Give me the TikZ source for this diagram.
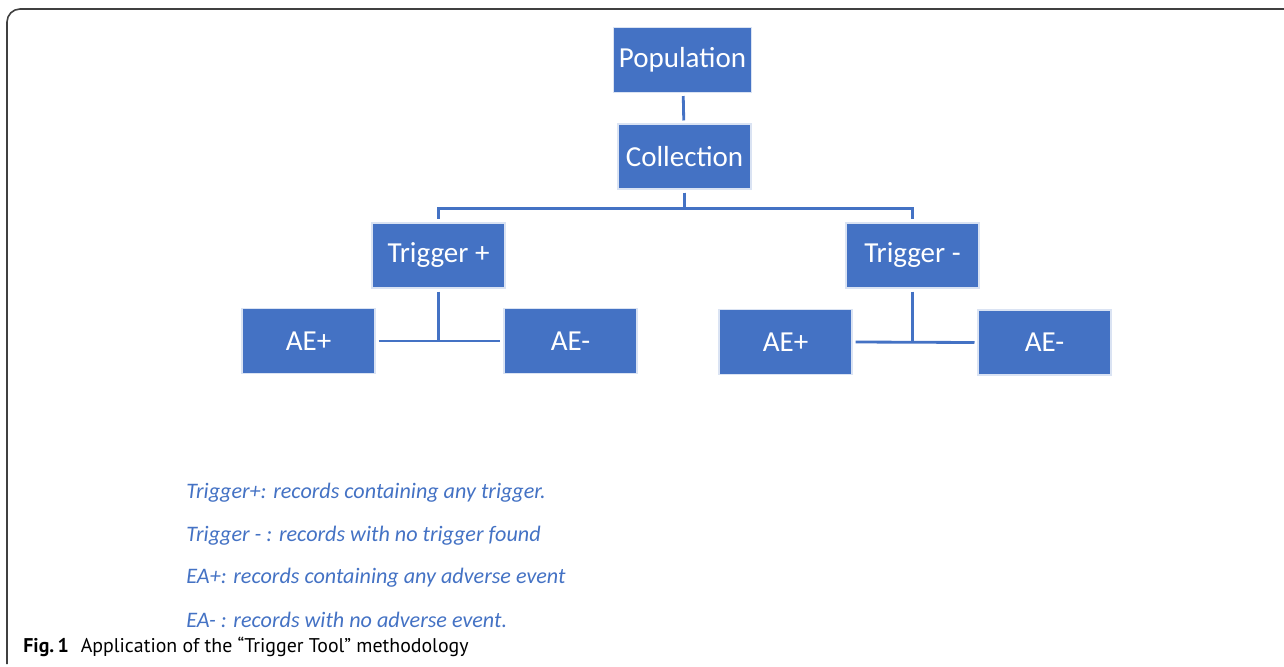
\documentclass[tikz,border=0pt]{standalone}
\usepackage{fontspec}
\setmainfont{Carlito}
\newfontfamily\capfont{PT Sans}
\definecolor{officeblue}{HTML}{4472C4}
\tikzset{
    box/.style={draw=white!80!officeblue, line width=0.6pt, fill=officeblue, text=white,
        minimum width=133*0.02cm, minimum height=65*0.02cm, font=\fontsize{16.5}{18}\selectfont,
        outer sep=2pt},
    link/.style={draw=officeblue, line width=1.6pt},
    legend/.style={anchor=west, text=officeblue, font=\fontsize{12.6}{14}\selectfont\itshape, inner sep=0pt}
}
\begin{document}
\begin{tikzpicture}[x=0.02cm, y=-0.02cm]
    \useasboundingbox (0,0) rectangle (1284,666);
    \draw[black!75, line width=0.9pt, rounded corners=0.26cm] (7,664) -- (7,9) -- (1284,9);
    % boxes
    \node[box] (pop) at (682.5,60) {Population};
    \node[box] (coll) at (684.5,156.5) {Collection};
    \node[box] (tp) at (438.5,255.5) {Trigger +};
    \node[box] (tm) at (912.5,255.5) {Trigger -};
    \node[box] (aep1) at (308.5,341) {AE+};
    \node[box] (aem1) at (570.5,341) {AE-};
    \node[box] (aep2) at (785.5,342) {AE+};
    \node[box] (aem2) at (1044.5,342.5) {AE-};
    % connectors
    \draw[link] (pop) -- (coll);
    \draw[link] (coll.south) -- ++(0,16) -| (tp.north);
    \draw[link] (coll.south) -- ++(0,16) -| (tm.north);
    \draw[link] (tp.south) -- (tp.south |- aep1.east);
    \draw[link] (aep1.east) -- (aem1.west);
    \draw[link] (tm.south) -- (tm.south |- aep2.east);
    \draw[link] (aep2.east) -- (aem2.west);
    % legend
    \node[legend] (l1) at (186,493) {Trigger+: records containing any trigger.};
    \node[legend] (l2) at (186,536) {Trigger - : records with no trigger found};
    \node[legend] (l3) at (186,578) {EA+: records containing any adverse event};
    \node[legend] (l4) at (186,620) {EA- : records with no adverse event.};
    \node[anchor=west, inner sep=0pt, font=\capfont\fontsize{11.3}{13}\selectfont] (cap) at (23,647)
        {\textbf{Fig.\,1}\hspace{0.6em}Application of the \textquotedblleft Trigger Tool\textquotedblright\ methodology};
\end{tikzpicture}
\end{document}
